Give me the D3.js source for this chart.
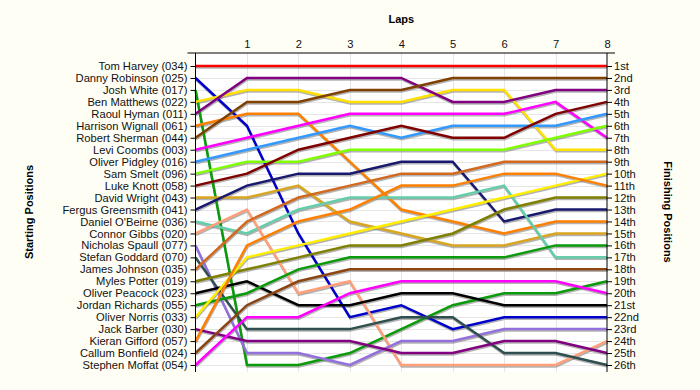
<!DOCTYPE html>
<html>
<head>
<meta charset="utf-8">
<script src="https://cdn.jsdelivr.net/npm/d3@7"></script>
<style>
  body { margin: 0; background: #fffef5; }
  text { font-family: "Liberation Sans", Arial, sans-serif; }
</style>
</head>
<body>
<div id="chart"></div>
<script>
var w = 700;
var h = 390;

// laps on the top axis
var laps = [0, 1, 2, 3, 4, 5, 6, 7, 8];
var lapTicks = [1, 2, 3, 4, 5, 6, 7, 8];

// drivers in starting order
var drivers = [
  "Tom Harvey (034)", "Danny Robinson (025)", "Josh White (017)", "Ben Matthews (022)",
  "Raoul Hyman (011)", "Harrison Wignall (061)", "Robert Sherman (044)", "Levi Coombs (003)",
  "Oliver Pidgley (016)", "Sam Smelt (096)", "Luke Knott (058)", "David Wright (043)",
  "Fergus Greensmith (041)", "Daniel O'Beirne (036)", "Connor Gibbs (020)", "Nicholas Spaull (077)",
  "Stefan Goddard (070)", "James Johnson (035)", "Myles Potter (019)", "Oliver Peacock (023)",
  "Jordan Richards (055)", "Oliver Norris (033)", "Jack Barber (030)", "Kieran Gifford (057)",
  "Callum Bonfield (024)", "Stephen Moffat (054)"
];

var finishLabels = [
  "1st", "2nd", "3rd", "4th", "5th", "6th", "7th", "8th", "9th", "10th", "11th", "12th", "13th",
  "14th", "15th", "16th", "17th", "18th", "19th", "20th", "21st", "22nd", "23rd", "24th", "25th", "26th"
];

// position of each driver at lap 0..8
var positions = [
  [1, 1, 1, 1, 1, 1, 1, 1, 1],
  [2, 6, 15, 22, 21, 23, 22, 22, 22],
  [3, 26, 26, 25, 23, 21, 20, 20, 19],
  [4, 3, 3, 4, 4, 3, 3, 8, 8],
  [5, 2, 2, 2, 2, 4, 4, 3, 3],
  [6, 5, 5, 9, 13, 14, 15, 14, 14],
  [7, 4, 4, 3, 3, 2, 2, 2, 2],
  [8, 7, 6, 5, 5, 5, 5, 4, 7],
  [9, 8, 7, 6, 7, 6, 6, 6, 5],
  [10, 9, 9, 8, 8, 8, 8, 7, 6],
  [11, 10, 8, 7, 6, 7, 7, 5, 4],
  [12, 12, 11, 14, 15, 16, 16, 15, 15],
  [13, 11, 10, 10, 9, 9, 14, 13, 13],
  [14, 15, 13, 12, 12, 12, 11, 17, 17],
  [15, 13, 20, 19, 26, 26, 26, 26, 24],
  [16, 25, 25, 26, 24, 24, 23, 23, 23],
  [17, 23, 23, 23, 22, 22, 25, 25, 26],
  [18, 14, 12, 11, 10, 10, 9, 9, 9],
  [19, 18, 17, 16, 16, 15, 13, 12, 12],
  [20, 19, 21, 21, 20, 20, 21, 21, 21],
  [21, 20, 18, 17, 17, 17, 17, 16, 16],
  [22, 17, 16, 15, 14, 13, 12, 11, 10],
  [23, 24, 24, 24, 25, 25, 24, 24, 25],
  [24, 16, 14, 13, 11, 11, 10, 10, 11],
  [25, 21, 19, 18, 18, 18, 18, 18, 18],
  [26, 22, 22, 20, 19, 19, 19, 19, 20]
];

var colors = [
  "#ff0000", "#0000cd", "#0a9a0a", "#ffe000", "#800080", "#ff8000", "#804000", "#ff00ff",
  "#3399ff", "#80ff00", "#800000", "#daa520", "#191970", "#66cdaa", "#ffa07a", "#9370db",
  "#2f4f4f", "#d2691e", "#808000", "#000000", "#0a9a0a", "#ffee00", "#800080", "#ff8000",
  "#8b4513", "#ff00ff"
];

var plotLeft = 195.5, plotRight = 607, plotTop = 53, plotBottom = 372;

var svg = d3.select("#chart").append("svg")
  .attr("width", w)
  .attr("height", h);

var x = d3.scaleLinear().domain([0, 8]).range([plotLeft, plotRight]);
var y = d3.scaleLinear().domain([1, 26]).range([66, 365]);

// plot background
svg.append("rect")
  .attr("x", plotLeft).attr("y", plotTop)
  .attr("width", plotRight - plotLeft).attr("height", plotBottom - plotTop)
  .style("fill", "#ffffff");

// grid
svg.append("g").selectAll("line")
  .data(d3.range(1, 27))
  .enter().append("line")
  .attr("x1", plotLeft).attr("x2", plotRight)
  .attr("y1", d => Math.round(y(d)) + 0.5).attr("y2", d => Math.round(y(d)) + 0.5)
  .style("stroke", "#e6e6e6");

svg.append("g").selectAll("line")
  .data(lapTicks.slice(0, 7))
  .enter().append("line")
  .attr("x1", d => Math.round(x(d)) + 0.5).attr("x2", d => Math.round(x(d)) + 0.5)
  .attr("y1", plotTop).attr("y2", plotBottom)
  .style("stroke", "#e6e6e6");

var line = d3.line()
  .x((d, i) => x(laps[i]))
  .y(d => y(d));

// shadows
svg.append("g").selectAll("path")
  .data(positions)
  .enter().append("path")
  .attr("d", line)
  .attr("transform", "translate(0.5,1.5)")
  .style("fill", "none")
  .style("stroke", "#808080")
  .style("stroke-opacity", 0.6)
  .style("stroke-width", 2.5);

svg.append("g").selectAll("path")
  .data(positions)
  .enter().append("path")
  .attr("d", line)
  .style("fill", "none")
  .style("stroke", (d, i) => colors[i])
  .style("stroke-width", 2.5)
  .append("title")
  .text((d, i) => drivers[i]);

// axes
var yLeft = d3.axisLeft(y)
  .tickValues(d3.range(1, 27))
  .tickFormat(d => drivers[d - 1])
  .tickSize(5)
  .tickPadding(3);

svg.append("g")
  .attr("transform", "translate(" + plotLeft + ",0)")
  .call(yLeft)
  .call(g => g.select(".domain").attr("d", "M0," + plotTop + "V" + plotBottom))
  .selectAll("text").style("font-size", "11.2px").style("fill", "#111");

var yRight = d3.axisRight(y)
  .tickValues(d3.range(1, 27))
  .tickFormat(d => finishLabels[d - 1])
  .tickSize(5)
  .tickPadding(2);

svg.append("g")
  .attr("transform", "translate(" + plotRight + ",0)")
  .call(yRight)
  .call(g => g.select(".domain").attr("d", "M0," + plotTop + "V" + plotBottom))
  .selectAll("text").style("font-size", "11.2px").style("fill", "#111");

var xTop = d3.axisTop(x)
  .tickValues(lapTicks)
  .tickSize(0)
  .tickPadding(5);

svg.append("g")
  .attr("transform", "translate(0," + plotTop + ")")
  .call(xTop)
  .call(g => g.select(".domain").attr("d", "M" + (plotLeft - 8) + ",0H" + (plotRight + 8)))
  .selectAll("text").style("font-size", "11.2px").style("fill", "#111");

// titles
svg.append("text")
  .attr("x", (plotLeft + plotRight) / 2).attr("y", 23)
  .attr("text-anchor", "middle")
  .style("font-size", "11px").style("font-weight", "bold")
  .text("Laps");

svg.append("text")
  .attr("transform", "translate(33,212) rotate(-90)")
  .attr("text-anchor", "middle")
  .style("font-size", "11px").style("font-weight", "bold")
  .text("Starting Positions");

svg.append("text")
  .attr("transform", "translate(664,212) rotate(90)")
  .attr("text-anchor", "middle")
  .style("font-size", "11px").style("font-weight", "bold")
  .text("Finishing Positions");
</script>
</body>
</html>
